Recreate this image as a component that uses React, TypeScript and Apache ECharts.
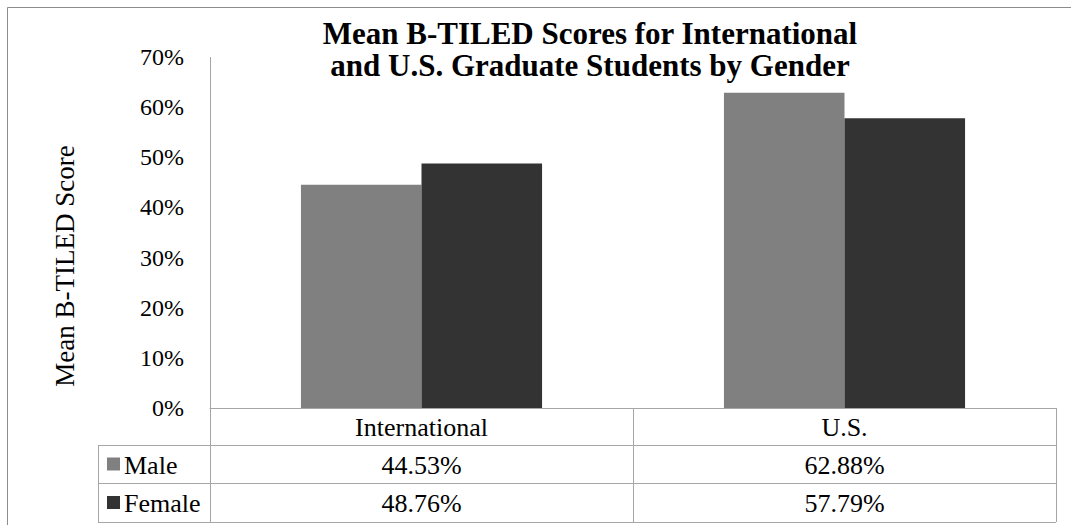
import React, { useEffect, useRef } from "react";
import * as echarts from "echarts";

const categories = ["International", "U.S."];
const seriesNames = ["Male", "Female"];
const maleValues = [44.53, 62.88];
const femaleValues = [48.76, 57.79];
const seriesColors = ["#808080", "#333333"];
const titleLines = ["Mean B-TILED Scores for International", "and U.S. Graduate Students by Gender"];
const yAxisTitle = "Mean B-TILED Score";

const W = 1071;
const H = 525;
const FONT = "Liberation Serif";

export default function App() {
  const ref = useRef<HTMLDivElement>(null);
  useEffect(() => {
    if (!ref.current) return;
    const chart = echarts.init(ref.current, null, { renderer: "svg" });
    const gridLeft = 210;
    const gridRight = 1056;
    const gridTop = 57;
    const gridBottom = 408;
    const rowY = [408, 445, 483, 522];
    const tableLeft = 98;
    const lineColor = "#a6a6a6";
    const colW = (gridRight - gridLeft) / categories.length;
    const values = [maleValues, femaleValues];

    const graphics: any[] = [];
    graphics.push({
      type: "rect",
      shape: { x: 7.5, y: 7.5, width: W + 20, height: H + 20 },
      style: { fill: "none", stroke: "#8c8c8c", lineWidth: 1 },
      silent: true,
    });
    rowY.forEach((y, i) => {
      graphics.push({
        type: "line",
        shape: { x1: i === 0 ? gridLeft : tableLeft, y1: y + 0.5, x2: gridRight, y2: y + 0.5 },
        style: { stroke: lineColor, lineWidth: 1 },
      });
    });
    graphics.push({
      type: "line",
      shape: { x1: tableLeft + 0.5, y1: rowY[1], x2: tableLeft + 0.5, y2: rowY[3] },
      style: { stroke: lineColor, lineWidth: 1 },
    });
    for (let c = 0; c <= categories.length; c++) {
      const x = gridLeft + c * colW;
      graphics.push({
        type: "line",
        shape: { x1: x + 0.5, y1: c === 0 ? gridTop : rowY[0], x2: x + 0.5, y2: rowY[3] },
        style: { stroke: lineColor, lineWidth: 1 },
      });
    }
    categories.forEach((cat, c) => {
      graphics.push({
        type: "text",
        x: gridLeft + (c + 0.5) * colW,
        y: (rowY[0] + rowY[1]) / 2 + 1,
        style: { text: cat, fontFamily: FONT, fontSize: 26, fill: "#000", textAlign: "center", textVerticalAlign: "middle" },
      });
    });
    seriesNames.forEach((name, s) => {
      const cy = (rowY[s + 1] + rowY[s + 2]) / 2 + 1;
      graphics.push({
        type: "rect",
        shape: { x: 107, y: cy - 7.5, width: 13, height: 13 },
        style: { fill: seriesColors[s] },
      });
      graphics.push({
        type: "text",
        x: 124,
        y: cy,
        style: { text: name, fontFamily: FONT, fontSize: 26, fill: "#000", textAlign: "left", textVerticalAlign: "middle" },
      });
      values[s].forEach((v, c) => {
        graphics.push({
          type: "text",
          x: gridLeft + (c + 0.5) * colW,
          y: cy,
          style: { text: v.toFixed(2) + "%", fontFamily: FONT, fontSize: 26, fill: "#000", textAlign: "center", textVerticalAlign: "middle" },
        });
      });
    });
    graphics.push({
      type: "text",
      x: 65,
      y: 266,
      rotation: Math.PI / 2,
      style: { text: yAxisTitle, fontFamily: FONT, fontSize: 27, fill: "#000", textAlign: "center", textVerticalAlign: "middle" },
    });
    titleLines.forEach((line, i) => {
      graphics.push({
        type: "text",
        x: 590,
        y: 33 + i * 32,
        style: {
          text: line,
          fontFamily: FONT,
          fontSize: 31,
          fontWeight: "bold",
          fill: "#000",
          textAlign: "center",
          textVerticalAlign: "middle",
        },
      });
    });

    chart.setOption({
      animation: false,
      backgroundColor: "#ffffff",
      grid: { left: gridLeft, right: W - gridRight, top: gridTop, bottom: H - gridBottom, containLabel: false },
      xAxis: {
        type: "category",
        data: categories,
        axisLine: { show: true, lineStyle: { color: lineColor } },
        axisTick: { show: false },
        axisLabel: { show: false },
      },
      yAxis: {
        type: "value",
        min: 0,
        max: 70,
        interval: 10,
        axisLine: { show: false },
        axisTick: { show: false },
        splitLine: { show: false },
        axisLabel: {
          formatter: (v: number) => v + "%",
          fontFamily: FONT,
          fontSize: 24,
          color: "#000",
          margin: 26,
        },
      },
      series: seriesNames.map((name, s) => ({
        name,
        type: "bar",
        data: values[s],
        itemStyle: { color: seriesColors[s] },
        barGap: "0%",
        barCategoryGap: "43%",
      })),
      graphic: graphics,
    });
    return () => chart.dispose();
  }, []);
  return <div ref={ref} style={{ position: "fixed", left: 0, top: 0, width: W, height: H }} />;
}
